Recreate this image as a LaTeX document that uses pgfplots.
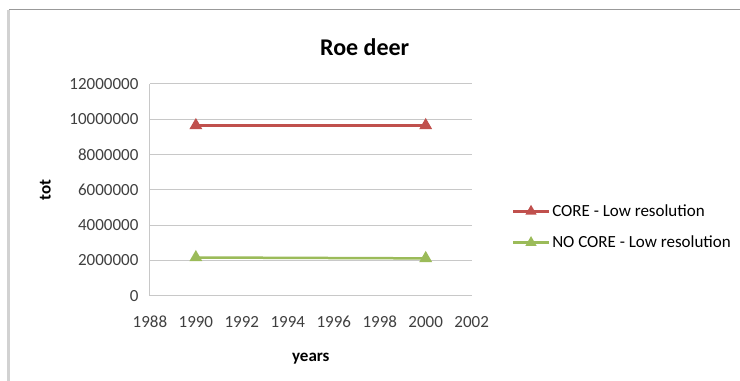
\documentclass[border=0pt]{standalone}
\usepackage{pgfplots}
\pgfplotsset{compat=1.18}
\usepackage{fontspec}
\setmainfont{Carlito}
\definecolor{cred}{HTML}{C0504D}
\definecolor{cgreen}{HTML}{9BBB59}
\definecolor{cgrid}{HTML}{C8C8C8}
\begin{document}
\begin{tikzpicture}
\fill[white] (0pt,0pt) rectangle (740pt,381pt);
\draw[gray!80, line width=1pt] (9pt,371pt) -- (740pt,371pt);
\fill[gray!35] (7pt,0pt) rectangle (10pt,371pt);
\begin{axis}[
  at={(150pt,85pt)}, anchor=south west,
  scale only axis, width=322pt, height=212pt,
  xmin=1988, xmax=2002, ymin=0, ymax=12000000,
  xtick={1988,1990,...,2002}, ytick={0,2000000,...,12000000},
  scaled y ticks=false,
  /pgf/number format/assume math mode=true,
  xticklabel={\pgfmathprintnumber[fixed,1000 sep={}]{\tick}},
  yticklabel={\pgfmathprintnumber[fixed,1000 sep={}]{\tick}},
  ticklabel style={font=\fontsize{17}{20}\selectfont, text=black!75},
  xticklabel style={yshift=-17pt},
  yticklabel style={xshift=-8pt},
  ymajorgrids, grid style={cgrid, line width=1pt},
  axis x line*=bottom, axis y line*=left,
  axis line style={cgrid, line width=1pt},
  tick style={draw=none},
  xlabel={\textbf{years}}, ylabel={\textbf{tot}},
  label style={font=\fontsize{17}{20}\selectfont},
  xlabel style={yshift=-18pt},
  ylabel style={yshift=12pt},
  title={\textbf{Roe deer}}, title style={font=\fontsize{24}{29}\selectfont, yshift=19pt, xshift=54pt},
  legend style={at={(1.124,0.325)}, anchor=west, draw=none, fill=none,
    font=\fontsize{17}{20}\selectfont, row sep=14pt, inner sep=0pt},
  legend cell align=left,
  legend image code/.code={
    \draw[#1, mark=none] (0pt,0pt) -- (36pt,0pt);
    \draw[#1, only marks, mark size=4pt] plot coordinates {(18pt,0pt)};
  },
]
\addplot[cred, line width=2.5pt, mark=triangle*, mark size=5pt, mark options={solid}] coordinates {(1990,9650000) (2000,9650000)};
\addlegendentry{CORE - Low resolution}
\addplot[cgreen, line width=2.5pt, mark=triangle*, mark size=5pt, mark options={solid}] coordinates {(1990,2170000) (2000,2120000)};
\addlegendentry{NO CORE - Low resolution}
\end{axis}
\end{tikzpicture}
\end{document}
